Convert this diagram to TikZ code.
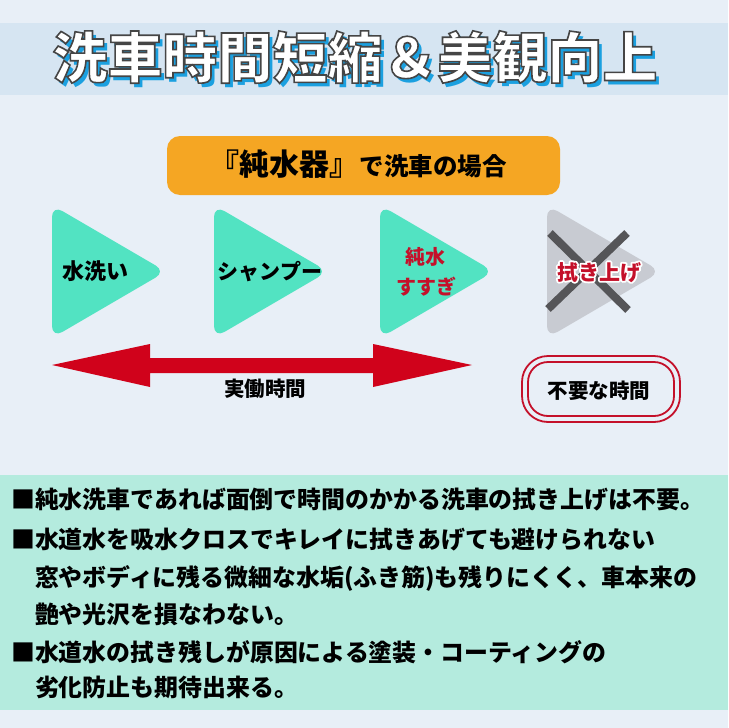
\documentclass[tikz,border=0pt]{standalone}
\usepackage{fontspec}
\setmainfont{Noto Sans CJK JP}
\definecolor{bg}{RGB}{232,239,247}
\definecolor{band}{RGB}{214,229,242}
\definecolor{shadowblue}{RGB}{27,160,224}
\definecolor{outl}{RGB}{70,70,70}
\definecolor{orangebox}{RGB}{245,166,35}
\definecolor{triC}{RGB}{82,227,194}
\definecolor{trigray}{RGB}{200,203,210}
\definecolor{crossgray}{RGB}{85,85,88}
\definecolor{arrowred}{RGB}{208,2,27}
\definecolor{textred}{RGB}{196,16,42}
\definecolor{mint}{RGB}{180,235,222}
\newcommand{\outlinedtext}[3]{{\color{#1}\special{pdf:literal direct #2 2 Tr}#3\special{pdf:literal direct 0 Tr 1 w}}}
\newcommand{\strokedtext}[3]{{\color{#1}\special{pdf:literal direct #2 1 Tr}#3\special{pdf:literal direct 0 Tr 1 w}}}
\begin{document}
\begin{tikzpicture}[x=1pt,y=-1pt,
  lbl/.style={inner sep=0pt, anchor=base, font=\bfseries},
  tribox/.style={rounded corners=12pt},
  bodyline/.style={inner sep=0pt, anchor=base west, font=\bfseries\fontsize{23.9}{28}\selectfont},
  titlefont/.style={inner sep=0pt, anchor=base, font=\bfseries\fontsize{55}{60}\selectfont}]
% background
\path[fill=bg] (0,0) rectangle (728,728);
\useasboundingbox (0,0) rectangle (728,728);
% title band
\fill[band] (0,23) rectangle (728,95);
\node[titlefont, text=shadowblue] (tshadow) at (359,82) {洗車時間短縮＆美観向上};
\node[titlefont] (title) at (355,78) {\outlinedtext{white}{0.27 G 1.6 w}{洗車時間短縮＆美観向上}};
% orange box
\fill[orangebox, rounded corners=13pt] (167,136) rectangle (560,195);
\node[lbl] (case) at (358,175) {{\fontsize{30}{33}\selectfont 『純水器』}{\fontsize{24.5}{28}\selectfont で洗車の場合}};
% triangles
\fill[triC, tribox] (52,205) -- (166,271.5) -- (52,338) -- cycle;
\fill[triC, tribox] (214,205) -- (328,271.5) -- (214,338) -- cycle;
\fill[triC, tribox] (380,205) -- (494,271.5) -- (380,338) -- cycle;
\fill[trigray, tribox] (547,205) -- (661,271.5) -- (547,338) -- cycle;
\node[lbl, font=\bfseries\fontsize{22}{26}\selectfont] (wash) at (95,279.5) {水洗い};
\node[lbl, font=\bfseries\fontsize{21}{25}\selectfont] (shampoo) at (270,279) {シャンプー};
\node[lbl, text=textred, font=\bfseries\fontsize{20}{24}\selectfont] (pure) at (425,264.6) {純水};
\node[lbl, text=textred, font=\bfseries\fontsize{20}{24}\selectfont] (rinse) at (426,294.6) {すすぎ};
% cross
\draw[crossgray, line width=8pt] (550,233) -- (628,310);
\draw[crossgray, line width=8pt] (627,233) -- (548,309);
\node[lbl, font=\bfseries\fontsize{21}{25}\selectfont] (wipeo) at (599,280) {\strokedtext{white}{1 G 3.6 w 1 j}{拭き上げ}};
\node[lbl, text=textred, font=\bfseries\fontsize{21}{25}\selectfont] (wipe) at (599,280) {拭き上げ};
% double arrow
\fill[arrowred] (52,365) -- (150,344) -- (150,358) -- (373,358) -- (373,344) -- (472,365)
  -- (373,387) -- (373,373) -- (150,373) -- (150,387) -- cycle;
\node[lbl, font=\bfseries\fontsize{20.5}{24}\selectfont] (work) at (265,396.8) {実働時間};
% double box
\draw[textred, line width=1.8pt, rounded corners=26pt] (522,356) rectangle (680,422);
\draw[textred, line width=1.8pt, rounded corners=20pt] (528,362) rectangle (674,416);
\node[lbl, font=\bfseries\fontsize{20.5}{24}\selectfont] (unneeded) at (599,398.8) {不要な時間};
% bottom panel
\fill[mint] (0,475) rectangle (728,710);
\node[bodyline] (l1) at (11,508.9) {■純水洗車であれば面倒で時間のかかる洗車の拭き上げは不要。};
\node[bodyline] (l2) at (11,548.9) {■水道水を吸水クロスでキレイに拭きあげても避けられない};
\node[bodyline] (l3) at (11,586.9) {　窓やボディに残る微細な水垢(ふき筋)も残りにくく、車本来の};
\node[bodyline] (l4) at (11,623.9) {　艶や光沢を損なわない。};
\node[bodyline] (l5) at (11,661.9) {■水道水の拭き残しが原因による塗装・コーティングの};
\node[bodyline] (l6) at (11,696.9) {　劣化防止も期待出来る。};
\end{tikzpicture}
\end{document}
